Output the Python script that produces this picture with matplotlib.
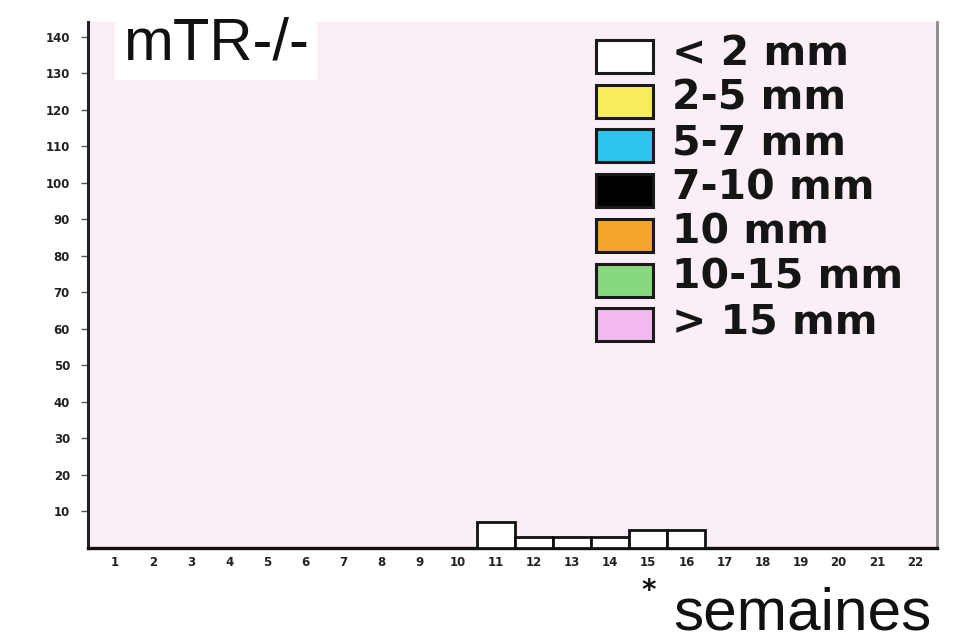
import matplotlib
matplotlib.use("Agg")
import matplotlib.pyplot as plt
from matplotlib.patches import Rectangle

# weekly counts of the smallest size class (< 2 mm)
weeks = list(range(1, 23))
week_labels = [str(w) for w in weeks]
bar_weeks = [11, 12, 13, 14, 15, 16]
bar_counts = [7, 3, 3, 3, 5, 5]

y_ticks = list(range(10, 150, 10))

size_classes = ["< 2 mm", "2-5 mm", "5-7 mm", "7-10 mm", "10 mm", "10-15 mm", "> 15 mm"]
class_colors = ["#ffffff", "#f6ec5c", "#2fc3ef", "#000000", "#f4a42a", "#86d97c", "#f2b9ee"]

W, H = 964, 643
fig = plt.figure(figsize=(W / 100, H / 100), dpi=100, facecolor="white")


def fx(px):
    return px / W


def fy(py):
    return 1 - py / H


ax = fig.add_axes([fx(88), fy(548), fx(937) - fx(88), fy(22) - fy(548)])
ax.set_facecolor("#faeff7")

ax.bar(bar_weeks, bar_counts, width=1.0, color=class_colors[0],
       edgecolor="#111111", linewidth=2.0, zorder=3)

ax.set_xlim(0.29, 22.58)
ax.set_ylim(0, 144)

ax.set_xticks(weeks)
ax.set_xticklabels(week_labels)
ax.set_yticks(y_ticks)
ax.set_yticklabels([str(v) for v in y_ticks])
ax.tick_params(axis="x", length=0, pad=6, labelsize=8.5, labelcolor="#222222")
ax.tick_params(axis="y", length=5, width=1, color="#555555", pad=8,
               labelsize=8.5, labelcolor="#222222")
for lab in ax.get_xticklabels() + ax.get_yticklabels():
    lab.set_fontweight("bold")

ax.spines["top"].set_visible(False)
ax.spines["left"].set_linewidth(2.2)
ax.spines["left"].set_color("#222222")
ax.spines["bottom"].set_linewidth(2.4)
ax.spines["bottom"].set_color("#111111")
ax.spines["right"].set_linewidth(2.0)
ax.spines["right"].set_color("#8a8a8a")

# panel title
fig.text(fx(123), fy(60), "mTR-/-", fontsize=43, family="Liberation Sans",
         va="baseline", ha="left", color="#111111",
         bbox=dict(facecolor="white", edgecolor="none", pad=6))

# size-class key
box_x, box_w, box_h = 596, 57, 33
top0, step = 40, 44.7
for i, (label, col) in enumerate(zip(size_classes, class_colors)):
    top = top0 + i * step
    fig.patches.append(Rectangle((fx(box_x), fy(top + box_h)), fx(box_w), box_h / H,
                                 transform=fig.transFigure, facecolor=col,
                                 edgecolor="#1a1a1a", linewidth=2.2))
    fig.text(fx(672), fy(top + 25), label, fontsize=29.5, family="DejaVu Sans",
             fontweight="bold", va="baseline", ha="left", color="#151515")

# significance mark under week 15
ax.annotate("*", xy=(15, 0), xycoords="data", xytext=(0, -31),
            textcoords="offset points", ha="center", va="center",
            fontsize=20, fontweight="bold", color="#111111", annotation_clip=False)

# axis caption
fig.text(fx(673), fy(630), "semaines", fontsize=43.5, family="Liberation Sans",
         va="baseline", ha="left", color="#111111")

fig.savefig("out.png", dpi=100, facecolor="white")
